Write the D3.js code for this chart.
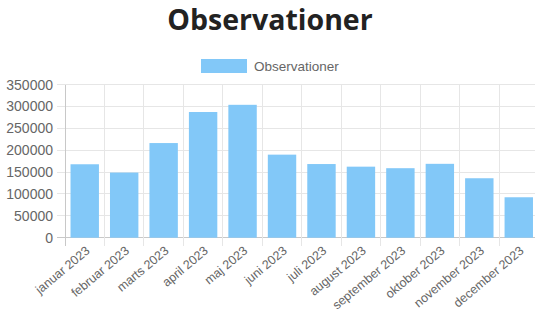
<!DOCTYPE html>
<html><head><meta charset="utf-8">
<script src="https://cdn.jsdelivr.net/npm/d3@7"></script>
<style>html,body{margin:0;padding:0;background:#fff;}svg{display:block;}</style>
</head><body>
<script>
const categories = ["januar 2023","februar 2023","marts 2023","april 2023","maj 2023","juni 2023","juli 2023","august 2023","september 2023","oktober 2023","november 2023","december 2023"];
const observationer = [168000,149000,216500,287500,304000,190000,168500,162500,159000,169000,136000,92500];
const yTicks = [0,50000,100000,150000,200000,250000,300000,350000];
const seriesName = "Observationer";
const titleText = "Observationer";

const W = 535, H = 314;
const svg = d3.select("body").append("svg").attr("width", W).attr("height", H);
const pLeft = 65, pRight = 538.5, pTop = 84.7, pBottom = 237.7;
const x = d3.scaleBand().domain(categories).range([pLeft, pRight]).paddingInner(0).paddingOuter(0);
const y = d3.scaleLinear().domain([0, 350000]).range([pBottom, pTop]);
const grid = "#e6e6e6", axisCol = "#c8c8c8", txt = "#666";
const font = "Arial, 'Liberation Sans', sans-serif";

// horizontal grid
svg.append("g").selectAll("line").data(yTicks).join("line")
  .attr("x1", pLeft - 8).attr("x2", pRight).attr("y1", d => y(d)).attr("y2", d => y(d))
  .attr("stroke", d => d === 0 ? axisCol : grid).attr("stroke-width", 1).attr("shape-rendering","crispEdges");
// vertical grid
const bounds = categories.map(c => x(c));
svg.append("g").selectAll("line").data(bounds).join("line")
  .attr("x1", d => d).attr("x2", d => d).attr("y1", pTop).attr("y2", pBottom + 8)
  .attr("stroke", (d,i) => i === 0 ? axisCol : grid).attr("stroke-width", 1).attr("shape-rendering","crispEdges");

// bars
const bw = x.bandwidth() * 0.72;
svg.append("g").selectAll("rect").data(observationer).join("rect")
  .attr("x", (d,i) => x(categories[i]) + (x.bandwidth() - bw) / 2)
  .attr("width", bw)
  .attr("y", d => y(d)).attr("height", d => pBottom - y(d))
  .attr("fill", "#82c8f8");

// y labels
svg.append("g").selectAll("text").data(yTicks).join("text")
  .attr("x", 53).attr("y", d => y(d)).attr("dy", "0.35em")
  .attr("text-anchor", "end").attr("font-family", font).attr("font-size", 14).attr("fill", txt)
  .text(d => d);

// x labels
svg.append("g").selectAll("text").data(categories).join("text")
  .attr("transform", c => `translate(${x(c) + x.bandwidth()/2 + 3},${pBottom + 11}) rotate(-40)`)
  .attr("text-anchor", "end").attr("dy", "0.35em")
  .attr("font-family", font).attr("font-size", 12.5).attr("fill", txt)
  .text(c => c);

// title
svg.append("text").attr("x", 270).attr("y", 30).attr("text-anchor", "middle")
  .attr("font-family", "'Open Sans', sans-serif").attr("font-weight", "bold").attr("font-size", 28.5)
  .attr("fill", "#222").text(titleText);

// legend
svg.append("rect").attr("x", 201).attr("y", 59).attr("width", 46).attr("height", 14).attr("fill", "#82c8f8");
svg.append("text").attr("x", 254).attr("y", 66).attr("dy", "0.35em")
  .attr("font-family", font).attr("font-size", 13.5).attr("fill", txt).text(seriesName);
</script>
</body></html>
